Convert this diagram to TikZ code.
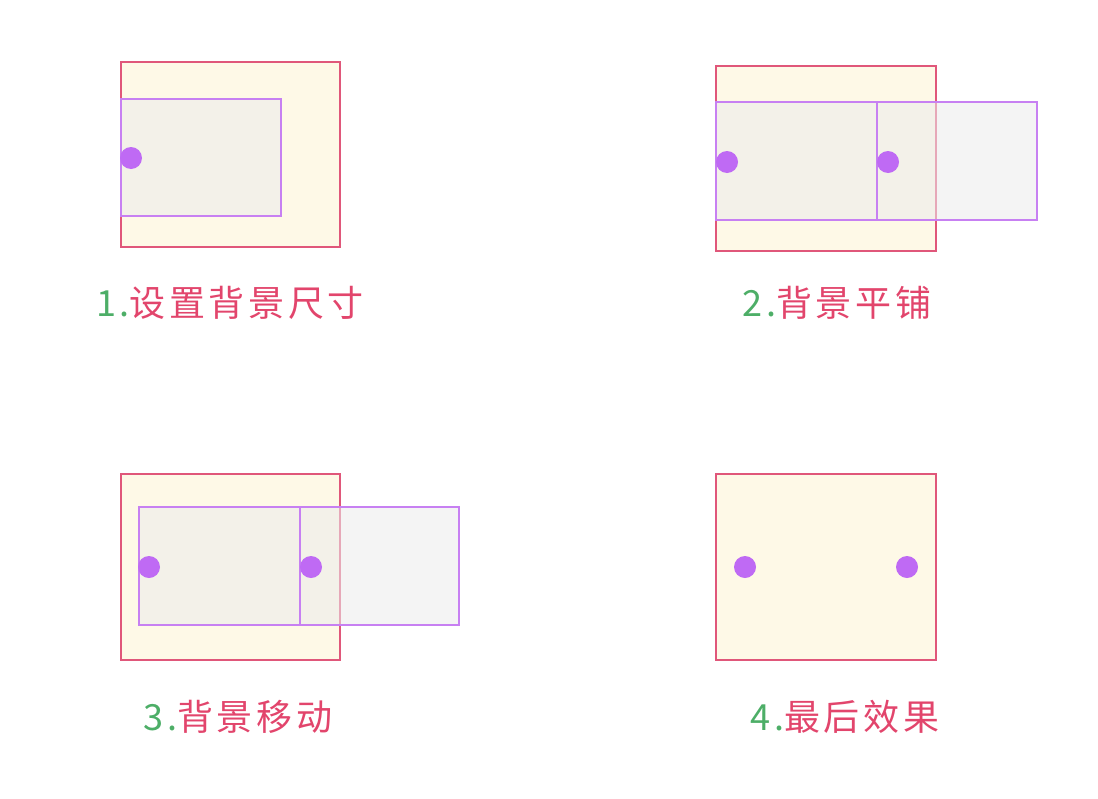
\documentclass[tikz,border=0pt]{standalone}
\usepackage{fontspec}
\newfontfamily\cjk[LetterSpace=10]{Noto Sans CJK SC}
\usetikzlibrary{positioning}
\definecolor{frameRed}{HTML}{E0577A}
\definecolor{frameFill}{HTML}{FEF9E7}
\definecolor{tilePurple}{HTML}{C780F2}
\definecolor{tileFill}{HTML}{EBEBEB}
\definecolor{dotPurple}{HTML}{BF6AF4}
\definecolor{numGreen}{HTML}{4DAE67}
\definecolor{textRed}{HTML}{E2456C}
\tikzset{
x=0.02cm, y=-0.02cm, % one unit is one pixel of the reference
frame/.style={draw=frameRed, fill=frameFill, line width=1.1pt}, % the box the background sits in
tile/.style={draw=tilePurple, fill=tileFill, fill opacity=0.55, line width=1pt}, % one copy of the background
spot/.style={circle, fill=dotPurple, inner sep=0pt, minimum size=0.44cm}, % the dot on the background
caption/.style={font=\cjk\fontsize{20.5}{24}\selectfont, text=textRed, inner sep=0pt}, % the step text
}
\newcommand{\stepnum}[1]{\textcolor{numGreen}{#1.}}

\begin{document}
\begin{tikzpicture}
    \useasboundingbox (0,0) rectangle (1098,798);

    % 1
    \draw[frame] (121,62) rectangle (340,247);
    \draw[tile] (121,99) rectangle (281,216);
    \node[spot] (d1) at (131,158) {};
    \node[caption] (c1) at (230,303) {\stepnum{1}设置背景尺寸};

    % 2
    \draw[frame] (716,66) rectangle (936,251);
    \draw[tile] (716,102) rectangle (877,220);
    \draw[tile] (877,102) rectangle (1037,220);
    \node[spot] (d2a) at (727,162) {};
    \node[spot] (d2b) at (888,162) {};
    \node[caption] (c2) at (837,303) {\stepnum{2}背景平铺};

    % 3
    \draw[frame] (121,474) rectangle (340,660);
    \draw[tile] (139,507) rectangle (300,625);
    \draw[tile] (300,507) rectangle (459,625);
    \node[spot] (d3a) at (149,567) {};
    \node[spot] (d3b) at (311,567) {};
    \node[caption] (c3) at (238,717) {\stepnum{3}背景移动};

    % 4
    \draw[frame] (716,474) rectangle (936,660);
    \node[spot] (d4a) at (745,567) {};
    \node[spot] (d4b) at (907,567) {};
    \node[caption] (c4) at (845,717) {\stepnum{4}最后效果};
\end{tikzpicture}
\end{document}
